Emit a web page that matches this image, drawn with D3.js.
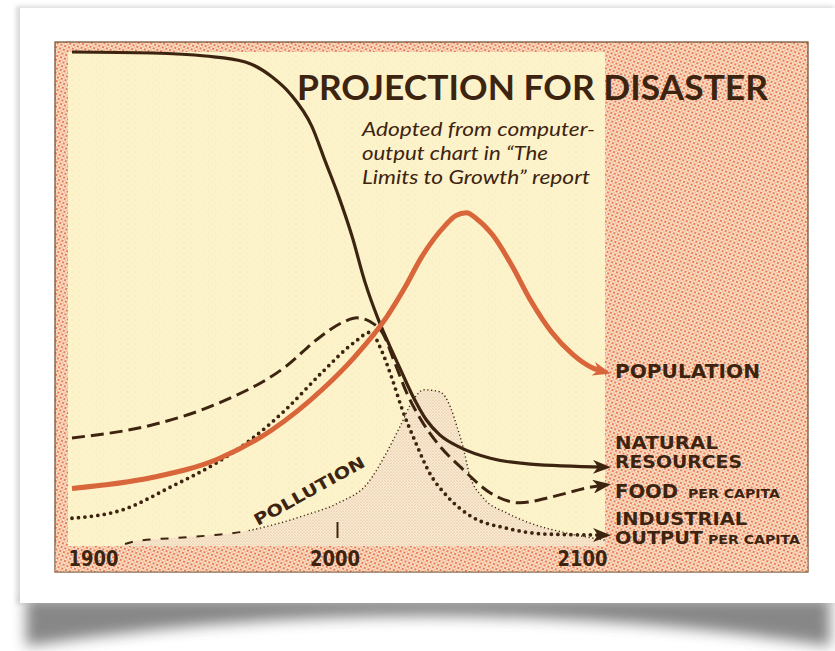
<!DOCTYPE html>
<html><head><meta charset="utf-8">
<script src="https://cdn.jsdelivr.net/npm/d3@7"></script>
<style>html,body{margin:0;padding:0;background:#fff;overflow:hidden}</style>
</head><body>
<svg id="c" width="835" height="651"></svg>
<script>
// ---- data (value scale 0..100) ----
const tickYears = [1900, 2000, 2100];
const tickLabels = ["1900", "2000", "2100"];

const resourcesYears = [1900,1930,1950,1965,1975,1982,1990,1995,2000,2005,2010,2015,2019,2023,2028,2033,2038,2046,2057,2072,2100];
const resourcesVals  = [100,99.8,99.2,98,95,91.5,85,78,71,63,53.5,46,41,36.3,30.5,25.8,22.8,20.2,18.1,16.9,16.3];

const populationYears = [1900,1930,1955,1975,1994,2006,2018,2025,2031,2040,2044,2048,2052,2058,2065,2072,2080,2088,2095,2100];
const populationVals  = [12,14.2,18,23.8,32,38.5,46.5,52.6,58.5,65,67,67.6,66.3,63,57,50,43.5,39,36.4,35.5];

const foodYears = [1900,1930,1955,1980,1993,2002,2007,2012,2017,2021,2026,2031,2037,2047,2057,2068,2080,2095,2100];
const foodVals  = [22.2,24.8,29.2,36.5,42.5,45.6,46.4,45.6,42.9,37.5,30.8,25.8,21.2,15.7,11.1,9.1,10.3,12.3,12.7];

const industryYears = [1900,1919,1937,1954,1967,1980,1994,2006,2012,2016,2020,2024,2029,2034,2041,2050,2063,2078,2100];
const industryVals  = [6,7.7,12.3,17.1,21.8,27.8,35.5,41.5,43.5,40,34.3,27.8,21.2,15.3,10.3,6.3,4,2.8,2.6];

const pollutionYears = [1900,1915,1924,1938,1953,1963,1975,1988,2000,2011,2018,2023,2028,2032,2038,2042,2044.5,2047,2049,2054,2063,2072,2084,2100];
const pollutionVals  = [-1,0,1.4,2,2.6,3.2,4.6,6.7,9.1,13.1,19.2,24.4,29.8,31.9,31.5,28.4,24.4,19.8,15.1,10.3,7.1,5,3.2,1.6];

const zip = (a, b) => a.map((v, i) => [v, b[i]]);

// ---- drawing ----
const svg = d3.select("#c");
const defs = svg.append("defs");
const BROWN = "#3d2410", ORANGE = "#d9653a";

defs.append("filter").attr("id","blur6").attr("x","-20%").attr("y","-50%").attr("width","140%").attr("height","200%")
  .append("feGaussianBlur").attr("stdDeviation",7);
defs.append("filter").attr("id","blur2").append("feGaussianBlur").attr("stdDeviation",2);

// halftone patterns
const pk = defs.append("pattern").attr("id","pink").attr("patternUnits","userSpaceOnUse").attr("width",4).attr("height",4)
  .attr("patternTransform","rotate(20)");
pk.append("rect").attr("width",4).attr("height",4).attr("fill","#f9e4cb");
pk.append("circle").attr("cx",1).attr("cy",1).attr("r",1.1).attr("fill","#e96d45");
pk.append("circle").attr("cx",3).attr("cy",3).attr("r",0.75).attr("fill","#ee8a64");

const pl = defs.append("pattern").attr("id","poll").attr("patternUnits","userSpaceOnUse").attr("width",3).attr("height",3);
pl.append("rect").attr("width",3).attr("height",3).attr("fill","#f9ebd0");
pl.append("circle").attr("cx",1).attr("cy",1).attr("r",0.55).attr("fill","#e09a7c");
pl.append("circle").attr("cx",2.5).attr("cy",2.5).attr("r",0.35).attr("fill","#b09c8a");

const cr = defs.append("pattern").attr("id","cream").attr("patternUnits","userSpaceOnUse").attr("width",7).attr("height",6);
cr.append("rect").attr("width",7).attr("height",6).attr("fill","#fcf3ca");
cr.append("circle").attr("cx",2).attr("cy",2).attr("r",0.6).attr("fill","#f3d3a6").attr("opacity",0.7);
cr.append("circle").attr("cx",5.5).attr("cy",5).attr("r",0.5).attr("fill","#f6dcc0").attr("opacity",0.7);

function marker(id, color) {
  defs.append("marker").attr("id", id).attr("markerUnits","userSpaceOnUse")
    .attr("viewBox","0 0 18 14").attr("markerWidth",18).attr("markerHeight",14)
    .attr("refX",12).attr("refY",7).attr("orient","auto")
    .append("path").attr("d","M0,0 L18,7 L0,14 L5,7 Z").attr("fill", color);
}
marker("arB", BROWN);
marker("arO", ORANGE);

// card shadow + card
svg.append("path")
  .attr("d","M26,598 L830,598 L830,646 Q430,586 26,646 Z")
  .attr("fill","#555").attr("opacity",0.7).attr("filter","url(#blur6)");
svg.append("rect").attr("x",16).attr("y",6).attr("width",818).attr("height",598)
  .attr("fill","#999").attr("opacity",0.35).attr("filter","url(#blur2)");
svg.append("rect").attr("x",20).attr("y",8).attr("width",815).attr("height",595).attr("fill","#fff");

// chart panel
const L = 55, T = 42, R = 808, B = 572;
svg.append("rect").attr("x",L).attr("y",T).attr("width",R-L).attr("height",B-T)
  .attr("fill","url(#pink)").attr("stroke","#6b4a2a").attr("stroke-width",1.2);

const x = d3.scaleLinear().domain([1900, 2100]).range([72, 605]);
const y = d3.scaleLinear().domain([0, 100]).range([548, 52]);

svg.append("rect").attr("x",68).attr("y",52).attr("width",x(2100)-68).attr("height",546-52)
  .attr("fill","url(#cream)");

// pollution shaded area
const pollData = zip(pollutionYears, pollutionVals);
const area = d3.area().x(d => x(d[0])).y0(y(-0.5)).y1(d => y(d[1])).curve(d3.curveMonotoneX);
const lineGen = d3.line().x(d => x(d[0])).y(d => y(d[1])).curve(d3.curveMonotoneX);
svg.append("path").datum(pollData).attr("d", area).attr("fill","url(#poll)");

svg.append("rect").attr("x",L + 0.6).attr("y",546).attr("width",R-L-1.2).attr("height",B-546-0.6).attr("fill","url(#pink)");

// pollution outline: dashed before 1966, fine dots after
defs.append("clipPath").attr("id","clipA").append("rect").attr("x",x(1918)).attr("y",0).attr("width",x(1966)-x(1918)).attr("height",651);
defs.append("clipPath").attr("id","clipB").append("rect").attr("x",x(1966)).attr("y",0).attr("width",835).attr("height",651);
svg.append("path").datum(pollData).attr("d", lineGen).attr("fill","none")
  .attr("stroke",BROWN).attr("stroke-width",2).attr("stroke-dasharray","8,10").attr("clip-path","url(#clipA)");
svg.append("path").datum(pollData).attr("d", lineGen).attr("fill","none")
  .attr("stroke",BROWN).attr("stroke-width",1.4).attr("stroke-dasharray","1.2,2.6").attr("clip-path","url(#clipB)");

// industrial output (dotted)
svg.append("path").datum(zip(industryYears, industryVals)).attr("d", lineGen).attr("fill","none")
  .attr("stroke",BROWN).attr("stroke-width",3.8).attr("stroke-linecap","round").attr("stroke-dasharray","0,6.5")
  .attr("marker-end","url(#arB)");

// food (dashed)
svg.append("path").datum(zip(foodYears, foodVals)).attr("d", lineGen).attr("fill","none")
  .attr("stroke",BROWN).attr("stroke-width",3).attr("stroke-dasharray","13,6")
  .attr("marker-end","url(#arB)");

// natural resources (solid)
svg.append("path").datum(zip(resourcesYears, resourcesVals)).attr("d", lineGen).attr("fill","none")
  .attr("stroke",BROWN).attr("stroke-width",3.2)
  .attr("marker-end","url(#arB)");

// population (orange)
svg.append("path").datum(zip(populationYears, populationVals)).attr("d", lineGen).attr("fill","none")
  .attr("stroke",ORANGE).attr("stroke-width",5).attr("stroke-linejoin","round")
  .attr("marker-end","url(#arO)");

// x axis labels
const axis = d3.axisBottom(x).tickValues(tickYears).tickFormat((d, i) => tickLabels[i]).tickSize(0);
const gAx = svg.append("g").attr("transform","translate(0,551)").call(axis);
gAx.select(".domain").remove();
gAx.selectAll("text")
  .attr("font-family","'DejaVu Sans', sans-serif").attr("font-weight","bold").attr("font-size",21)
  .attr("fill",BROWN).attr("dy","0.72em").attr("y",0)
  .attr("text-anchor",(d, i) => i === 0 ? "start" : (i === tickYears.length - 1 ? "end" : "middle"))
  .attr("dx",(d, i) => i === 0 ? -4 : (i === tickYears.length - 1 ? 2 : -4))
  .attr("textLength",50).attr("lengthAdjust","spacingAndGlyphs");
svg.append("line").attr("x1",x(2000) - 1).attr("x2",x(2000) - 1).attr("y1",522).attr("y2",538)
  .attr("stroke",BROWN).attr("stroke-width",2);

// title
svg.append("text").attr("x",297).attr("y",100).text("PROJECTION FOR DISASTER")
  .attr("font-family","Lato, sans-serif").attr("font-weight",700).attr("font-size",34)
  .attr("fill",BROWN).attr("textLength",471).attr("lengthAdjust","spacingAndGlyphs");

const sub = ["Adopted from computer-", "output chart in \u201CThe", "Limits to Growth\u201D report"];
const subW = [233, 186, 228];
sub.forEach((s, i) => {
  svg.append("text").attr("x",362).attr("y",136 + i * 24).text(s)
    .attr("font-family","Lato, sans-serif").attr("font-style","italic").attr("font-size",19)
    .attr("fill",BROWN).attr("textLength",subW[i]).attr("lengthAdjust","spacingAndGlyphs");
});

function lab(t, x0, y0, w, size) {
  svg.append("text").attr("x",x0).attr("y",y0).text(t)
    .attr("font-family","'DejaVu Sans', sans-serif").attr("font-weight","bold").attr("font-size",size || 20)
    .attr("fill",BROWN).attr("textLength",w).attr("lengthAdjust","spacingAndGlyphs");
}
lab("POPULATION", 615, 378, 145);
lab("NATURAL", 615, 449, 103, 17);
lab("RESOURCES", 615, 468, 127, 17);
lab("FOOD", 615, 498, 63);
lab("PER CAPITA", 688, 498, 92, 12);
lab("INDUSTRIAL", 615, 525, 132, 17);
lab("OUTPUT", 615, 544, 88, 17);
lab("PER CAPITA", 708, 544, 92, 12);

svg.append("text").text("POLLUTION")
  .attr("transform","translate(312,496) rotate(-29)")
  .attr("text-anchor","middle")
  .attr("font-family","'DejaVu Sans', sans-serif").attr("font-weight","bold").attr("font-size",16)
  .attr("fill",BROWN).attr("textLength",124).attr("lengthAdjust","spacingAndGlyphs");
</script>
</body></html>
